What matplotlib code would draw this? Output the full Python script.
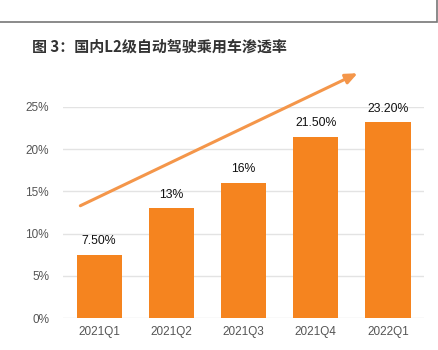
import matplotlib
matplotlib.use("Agg")
import matplotlib.pyplot as plt
from matplotlib.patches import Rectangle

plt.rcParams['font.family'] = ['Liberation Sans', 'Noto Sans CJK SC', 'DejaVu Sans']

categories = ["2021Q1", "2021Q2", "2021Q3", "2021Q4", "2022Q1"]
values = [7.5, 13.0, 16.0, 21.5, 23.2]
value_labels = ["7.50%", "13%", "16%", "21.50%", "23.20%"]
y_ticks = [0, 5, 10, 15, 20, 25]
y_tick_labels = ["0%", "5%", "10%", "15%", "20%", "25%"]
title = "图 3：国内L2级自动驾驶乘用车渗透率"

bar_color = "#F5841F"
arrow_color = "#F4964A"

fig = plt.figure(figsize=(4.39, 3.5), dpi=100)
ax = fig.add_axes([0.1435, 0.0914, 0.8225, 0.6029])

x = list(range(len(categories)))
bars = ax.bar(x, values, width=0.625, color=bar_color, zorder=3)
for xi, v, lab in zip(x, values, value_labels):
    ax.text(xi, v + 0.9, lab, ha='center', va='bottom', fontsize=8.8, color='#111111')

ax.set_xlim(-0.5, 4.5)
ax.set_ylim(0, 25)
ax.set_yticks(y_ticks)
ax.set_yticklabels(y_tick_labels)
ax.set_xticks(x)
ax.set_xticklabels(categories)
ax.tick_params(axis='both', length=0, labelsize=8.5, labelcolor='#555555')
ax.tick_params(axis='y', pad=10)
ax.tick_params(axis='x', pad=6)
for s in ax.spines.values():
    s.set_visible(False)
ax.grid(axis='y', color='#E3E3E3', linewidth=1, zorder=0)
ax.set_axisbelow(True)

# trend arrow
ax.annotate("", xy=(3.58, 29.0), xytext=(-0.26, 13.3),
            arrowprops=dict(arrowstyle="-|>,head_length=0.7,head_width=0.3",
                            color=arrow_color, lw=2.2, shrinkA=0, shrinkB=0),
            annotation_clip=False)

fig.text(32 / 439, 1 - 47 / 350, title, fontsize=10.8, fontweight='bold',
         color='#333333', va='center', ha='left',
         family=['Noto Sans CJK SC', 'DejaVu Sans'])

# top frame
fig.add_artist(Rectangle((-0.01, 1 - 22 / 350), 437 / 439 + 0.01, 0.2,
                         transform=fig.transFigure, fill=False,
                         edgecolor='#777777', linewidth=1.2))

fig.savefig("out.png", dpi=100)
